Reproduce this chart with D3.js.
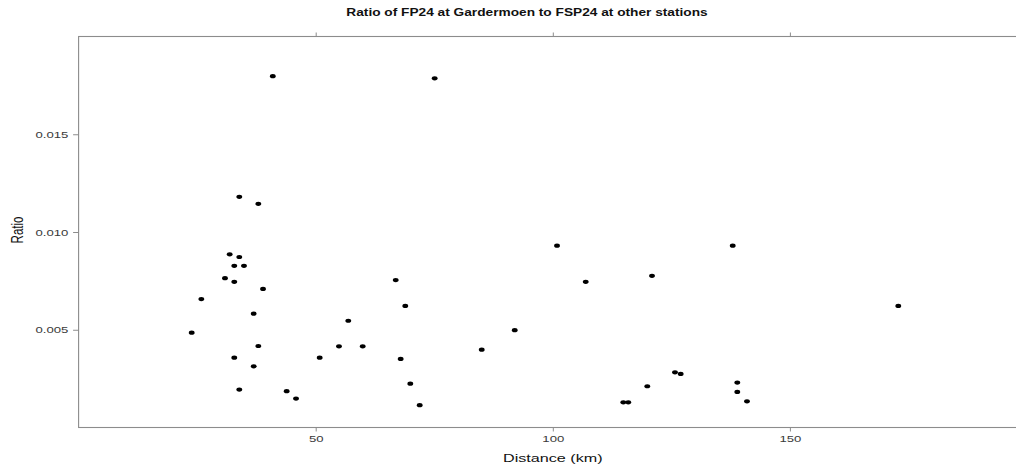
<!DOCTYPE html>
<html>
<head>
<meta charset="utf-8">
<script src="https://cdn.jsdelivr.net/npm/d3@7"></script>
<style>
  html, body { margin: 0; padding: 0; background: #fff; }
  svg { display: block; }
  text { font-family: "Liberation Sans", Arial, Helvetica, sans-serif; }
</style>
</head>
<body>
<svg id="chart" width="1016" height="465"></svg>
<script>
// ---- data ----
const distance = [40.95, 75.09, 33.89, 37.90, 31.86, 33.89, 32.83, 34.88, 30.87, 32.83,
                  38.89, 25.88, 36.93, 23.85, 37.90, 32.83, 36.93, 33.89, 43.88, 45.85,
                  50.84, 54.91, 56.87, 59.91, 66.87, 68.89, 67.92, 69.95, 71.93, 85.01,
                  91.97, 100.89, 106.94, 120.92, 114.87, 115.92, 119.93, 125.77, 126.97, 137.94,
                  138.91, 138.91, 140.95, 172.86];
const ratio = [0.01797, 0.01786, 0.01180, 0.01144, 0.00886, 0.00872, 0.00827, 0.00827, 0.00764, 0.00745,
               0.00709, 0.00657, 0.00582, 0.00485, 0.00417, 0.00357, 0.00313, 0.00194, 0.00186, 0.00148,
               0.00357, 0.00415, 0.00546, 0.00415, 0.00754, 0.00622, 0.00351, 0.00224, 0.00114, 0.00398,
               0.00498, 0.00930, 0.00745, 0.00776, 0.00129, 0.00129, 0.00211, 0.00282, 0.00274, 0.00930,
               0.00230, 0.00182, 0.00134, 0.00622];
const xTicks = [50, 100, 150];
const yTicks = [0.005, 0.010, 0.015];
const yTickLabels = ["0.005", "0.010", "0.015"];
const titleText = "Ratio of FP24 at Gardermoen to FSP24 at other stations";
const xLabel = "Distance (km)";
const yLabel = "Ratio";

// ---- layout ----
const SX = 1.37;          // horizontal stretch of the original rendering
const axisColor = "#8c8c8c";
const textColor = "#3a3a3a";

const svg = d3.select("#chart");
const x = d3.scaleLinear().domain([0, 200]).range([78.6, 1027]);
const y = d3.scaleLinear().domain([0, 0.02]).range([427.5, 36.5]);

// frame
svg.append("rect")
  .attr("x", x(0)).attr("y", y(0.02))
  .attr("width", x(200) - x(0)).attr("height", y(0) - y(0.02))
  .attr("fill", "none").attr("stroke", axisColor).attr("stroke-width", 1.1);

// bottom axis
const gx = svg.append("g").attr("transform", `translate(0,${y(0)})`)
  .call(d3.axisBottom(x).tickValues(xTicks).tickSize(4).tickPadding(4).tickFormat(d3.format("d")));
gx.select(".domain").remove();
gx.selectAll("line").attr("stroke", axisColor);
gx.selectAll("text").attr("fill", textColor).attr("font-size", "9.6px")
  .attr("transform", `scale(${SX},1)`);

// top axis (ticks only)
const gt = svg.append("g").attr("transform", `translate(0,${y(0.02)})`)
  .call(d3.axisTop(x).tickValues(xTicks).tickSize(4).tickFormat(""));
gt.select(".domain").remove();
gt.selectAll("line").attr("stroke", axisColor);

// left axis
const gy = svg.append("g").attr("transform", `translate(${x(0)},0)`)
  .call(d3.axisLeft(y).tickValues(yTicks).tickSize(5.5).tickPadding(3)
    .tickFormat((d, i) => yTickLabels[i]));
gy.select(".domain").remove();
gy.selectAll("line").attr("stroke", axisColor);
gy.selectAll("text").attr("fill", textColor).attr("font-size", "9.6px")
  .attr("x", -10.3 / SX)
  .attr("transform", `scale(${SX},1)`);

// points
svg.append("g").selectAll("ellipse")
  .data(distance.map((d, i) => ({ d, r: ratio[i] })))
  .join("ellipse")
  .attr("cx", p => x(p.d))
  .attr("cy", p => y(p.r))
  .attr("rx", 2.9).attr("ry", 2.1)
  .attr("fill", "#000");

// title
svg.append("text")
  .attr("transform", `translate(527,16) scale(${SX},1)`)
  .attr("text-anchor", "middle")
  .attr("font-size", "10px").attr("font-weight", "bold").attr("fill", "#111")
  .text(titleText);

// x label
svg.append("text")
  .attr("transform", `translate(${x(100)},461.5) scale(${SX},1)`)
  .attr("text-anchor", "middle")
  .attr("font-size", "11.8px").attr("fill", "#111")
  .text(xLabel);

// y label
svg.append("text")
  .attr("transform", `translate(23,${(y(0) + y(0.02)) / 2 - 2}) scale(${SX},1) rotate(-90)`)
  .attr("text-anchor", "middle")
  .attr("font-size", "11.5px").attr("fill", "#111")
  .text(yLabel);
</script>
</body>
</html>
